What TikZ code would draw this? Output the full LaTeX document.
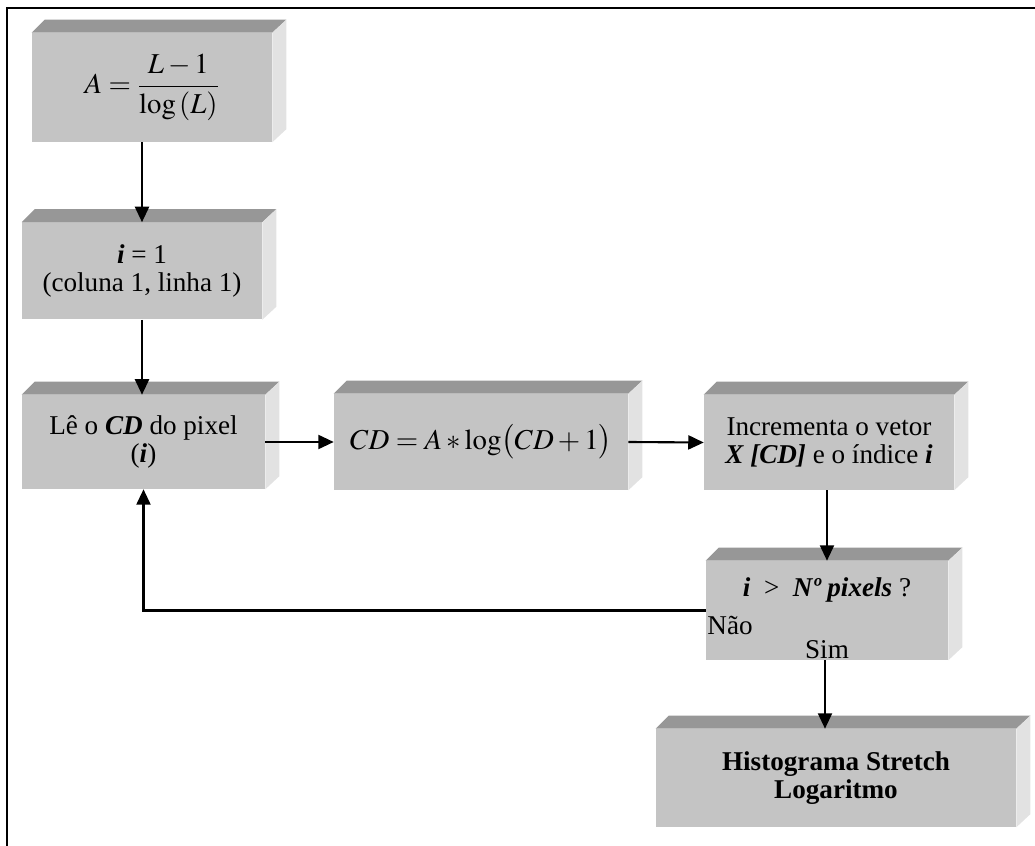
\documentclass[tikz,border=0pt]{standalone}
\usepackage{mathptmx}
\usepackage{fontspec}
\setmainfont{Liberation Serif}
\usepackage{tikz}
\usetikzlibrary{arrows.meta, calc, positioning}
\definecolor{boxfront}{HTML}{C4C4C4}
\definecolor{boxtop}{HTML}{979797}
\definecolor{boxside}{HTML}{E2E2E2}
\newcommand{\px}{0.025cm}
\newcommand{\bi}[1]{\textbf{\textit{#1}}}
\tikzset{
	boxnode/.style 2 args={
			rectangle,
			fill=boxfront,
			inner sep=0pt,
			align=center,
			minimum width=#1*\px,
			minimum height=#2*\px
		},
	flowline/.style={
			line width=1.5pt,
			->
		},
	labelnode/.style={
			inner sep=1pt
		},
	mathfont/.style={
			font=\fontsize{20.5}{24}\selectfont
		},
	>={Triangle[length=11pt, width=10pt]}
}
% top and right faces of a box
\newcommand{\bevel}[1]{%
	\fill[boxtop] (#1.north west) -- ++(13,-13) -- ([shift={(14,-13)}]#1.north east) -- (#1.north east) -- cycle;
	\fill[boxside] (#1.north east) -- ++(14,-13) -- ([shift={(14,-13)}]#1.south east) -- (#1.south east) -- cycle;
}

\begin{document}
\begin{tikzpicture}[x=0.025cm, y=-0.025cm, font=\fontsize{19.3}{20.5}\selectfont]
\useasboundingbox (0,0) rectangle (1035,846);
\draw[line width=1.4pt] (7,846) -- (7,8) -- (1035,8);

\node[boxnode={240}{109}, mathfont] (n1) at (152,87.5) {$A=\displaystyle\frac{L-1}{\log\left(L\right)}$};
\node[boxnode={240}{97}] (n2) at (142,271) {\bi{i} = 1\\(coluna 1, linha 1)};
\node[boxnode={243}{94}] (n3) at (143.5,442) {Lê o \bi{CD} do pixel\\(\bi{i})};
\node[boxnode={294}{96}, mathfont] (n4) at (481,442) {$CD = A\ast\log\bigl(CD+1\bigr)$};
\node[boxnode={250}{95}] (n5) at (829,442.5) {Incrementa o vetor\\\bi{X [CD]} e o índice \bi{i}};
\node[boxnode={242}{99}] (n6) at (827,610.5) {};
\node[boxnode={360}{98}] (n7) at (836,778) {\textbf{Histograma Stretch}\\\textbf{Logaritmo}};

\bevel{n1}
\bevel{n2}
\bevel{n3}
\bevel{n4}
\bevel{n5}
\bevel{n6}
\bevel{n7}

\node (q) at (827,590) {\bi{i}~ > ~\bi{Nº pixels} ?};
\node[labelnode, anchor=north west] (nao) at ([yshift=-3pt]n6.west) {Não};
\node[labelnode, anchor=south] (sim) at (n6.south) {Sim};

\draw[flowline] (n1.south -| n2.north) -- (n2.north);
\draw[flowline] (n2.south) -- (n2.south |- n3.north);
\draw[flowline] (n3.east) -- (n4.west);
\draw[flowline] (n4.east) -- (n5.west);
\draw[flowline] (n5.south -| n6.north) -- (n6.north);
\draw[flowline] (n6.south -| 825,0) -- (n7.north -| 825,0);
\draw[flowline] (n6.west) -| (n3.south);
\end{tikzpicture}
\end{document}
